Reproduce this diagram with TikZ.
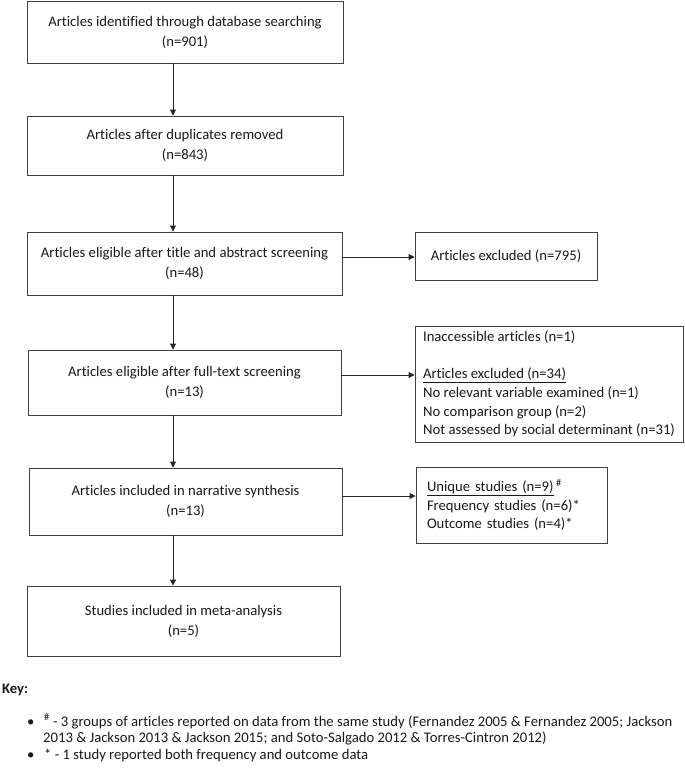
\documentclass[tikz,border=0pt]{standalone}
\usepackage{fontspec}
\setmainfont{Carlito}[Ligatures={NoCommon}]
\usetikzlibrary{arrows.meta}
\begin{document}
\begin{tikzpicture}[x=1pt,y=-1pt,
  every node/.style={font=\fontsize{14.67}{20}\selectfont, text=black!90},
  box/.style={draw=black!75, line width=0.9pt, align=center, inner sep=0pt},
  sbox/.style={draw=black!75, line width=0.9pt, align=left, inner xsep=11pt, inner ysep=0pt,
     font=\fontsize{14.67}{18.7}\selectfont},
  arr/.style={-{Triangle[length=6pt,width=6pt]}, line width=0.9pt, draw=black!85},
  keytxt/.style={anchor=base west, inner sep=0pt}]
\useasboundingbox (0,0) rectangle (685,771);
% main column
\node[box, minimum width=316pt, minimum height=62pt] (b1) at (185,32)
  {Articles identified through database searching\\(n=901)};
\node[box, minimum width=316pt, minimum height=59pt] (b2) at (185,145.5)
  {Articles after duplicates removed\\(n=843)};
\node[box, minimum width=315pt, minimum height=63pt] (b3) at (184.5,263.5)
  {Articles eligible after title and abstract screening\\(n=48)};
\node[box, minimum width=313pt, minimum height=65pt] (b4) at (184.5,382.5)
  {Articles eligible after full-text screening\\(n=13)};
\node[box, minimum width=313pt, minimum height=67pt] (b5) at (185.5,501.5)
  {Articles included in narrative synthesis\\(n=13)};
\node[box, minimum width=313pt, minimum height=70pt] (b6) at (183.5,621)
  {Studies included in meta-analysis\\(n=5)};
% side boxes
\node[sbox, inner xsep=0pt, minimum width=182pt, minimum height=48pt] (r1) at (506,256)
  {Articles excluded (n=795)};
\node[sbox, inner xsep=0pt, minimum width=268pt, minimum height=116pt] (r2) at (549,384)
  {Inaccessible articles (n=1)\\[18.7pt]\underline{Articles excluded (n=34)}\\No relevant variable examined (n=1)\\No comparison group (n=2)\\Not assessed by social determinant (n=31)};
\node[sbox, text width=169pt, minimum height=76pt] (r3) at (511.5,505)
  {\underline{Unique studies (n=9)}\,\textsuperscript{\#}\\Frequency studies (n=6)*\\Outcome studies (n=4)*};
% arrows
\coordinate (ax) at (173,0);
\coordinate (h1) at (0,257);
\coordinate (h2) at (0,375);
\coordinate (h3) at (0,496);
\draw[arr] (b1.south -| ax) -- (b2.north -| ax);
\draw[arr] (b2.south -| ax) -- (b3.north -| ax);
\draw[arr] (b3.south -| ax) -- (b4.north -| ax);
\draw[arr] (b4.south -| ax) -- (b5.north -| ax);
\draw[arr] (b5.south -| ax) -- (b6.north -| ax);
\draw[arr] (b3.east |- h1) -- (r1.west |- h1);
\draw[arr] (b4.east |- h2) -- (r2.west |- h2);
\draw[arr] (b5.east |- h3) -- (r3.west |- h3);
% key
\node[keytxt, font=\fontsize{14.67}{20}\selectfont\bfseries] (key) at (2,693) {Key:};
\node[keytxt] (bl1) at (27,726) {\textbullet};
\node[keytxt] (bl2) at (27,759) {\textbullet};
\node[keytxt] (k1) at (44,726) {\textsuperscript{\#} - 3 groups of articles reported on data from the same study (Fernandez 2005 \& Fernandez 2005; Jackson};
\node[keytxt] (k2) at (43,742.5) {2013 \& Jackson 2013 \& Jackson 2015; and Soto-Salgado 2012 \& Torres-Cintron 2012)};
\node[keytxt] (k3) at (44,759) {* - 1 study reported both frequency and outcome data};
\end{tikzpicture}
\end{document}
